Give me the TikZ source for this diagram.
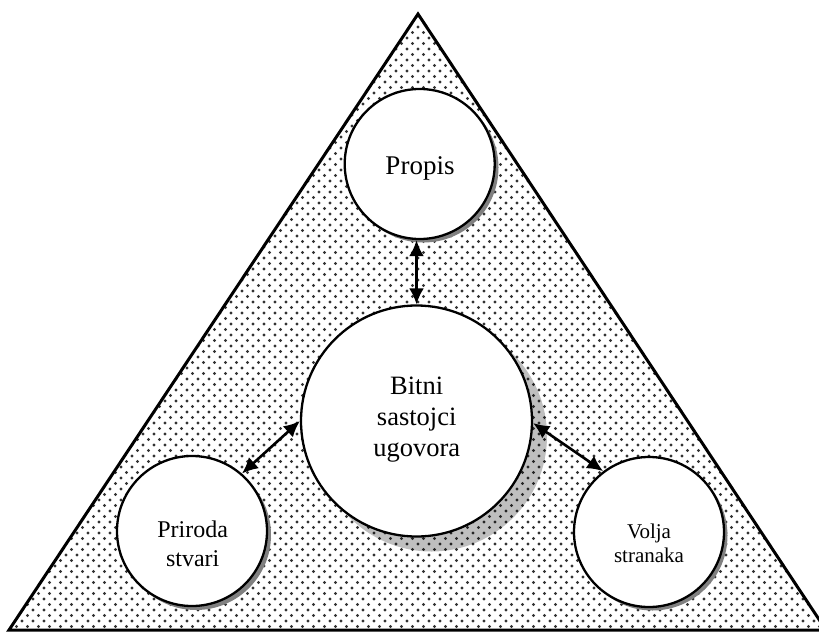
\documentclass[tikz,border=0pt]{standalone}
\usepackage{fontspec}
\setmainfont{Liberation Serif}
\usetikzlibrary{patterns,arrows.meta}
\pgfdeclarepatternformonly{stagdots}{\pgfqpoint{-2pt}{-2pt}}{\pgfqpoint{9pt}{9pt}}{\pgfqpoint{11pt}{11pt}}{%
  \pgfpathcircle{\pgfqpoint{0pt}{0pt}}{1.6pt}%
  \pgfpathcircle{\pgfqpoint{5.5pt}{5.5pt}}{1.6pt}%
  \pgfusepath{fill}}
\tikzset{
  bubble/.style={circle,draw=black,line width=2.3pt,fill=white,inner sep=0pt},
  smallshadow/.style={circle,fill=black!50,inner sep=0pt},
  bigshadow/.style={circle,fill=black,opacity=0.25,inner sep=0pt},
  lbl/.style={align=center,inner sep=0pt,text=black},
  arr/.style={line width=2.6pt,{Latex[length=16pt,width=15pt]}-{Latex[length=16pt,width=15pt]}},
}
\begin{document}
\begin{tikzpicture}[x=1pt,y=-1pt]
\useasboundingbox (0,0) rectangle (819,632);
% triangle
\coordinate (tl) at (9,630);
\coordinate (tt) at (418,14);
\coordinate (tr) at (826,630);
\fill[white] (tl) -- (tt) -- (tr) -- cycle;
\fill[pattern=stagdots,pattern color=black!80] (tl) -- (tt) -- (tr) -- cycle;
% shadows
\node[bigshadow,minimum size=231pt] (bts) at (431.5,436) {};
\node[smallshadow,minimum size=150pt] (pps) at (423.5,167.5) {};
\node[smallshadow,minimum size=150pt] (prs) at (196,535) {};
\node[smallshadow,minimum size=150pt] (vos) at (652.5,535.5) {};
% circles
\node[bubble,minimum size=231pt] (bt) at (416.5,421) {};
\node[bubble,minimum size=150pt] (pp) at (419.7,164) {};
\node[bubble,minimum size=150pt] (pr) at (192,531) {};
\node[bubble,minimum size=150pt] (vo) at (649,532) {};
% labels
\node[lbl,font=\fontsize{27}{31}\selectfont] (ppT) at (420,168.9) {Propis};
\node[lbl,font=\fontsize{26.5}{31}\selectfont] (btT) at (416.7,419.7) {Bitni\\sastojci\\ugovora};
\node[lbl,font=\fontsize{24}{29}\selectfont] (prT) at (192.7,543.3) {Priroda\\stvari};
\node[lbl,font=\fontsize{21}{24.7}\selectfont] (voT) at (649,543.2) {Volja\\stranaka};
% connectors
\draw[arr] (pp.south -| bt.north) -- (bt.north);
\draw[arr] (pr.49) -- (bt.180);
\draw[arr] (vo.127) -- (bt.-1);
% triangle outline
\draw[line width=3pt,line join=miter] (tl) -- (tt) -- (tr) -- cycle;
\end{tikzpicture}
\end{document}
